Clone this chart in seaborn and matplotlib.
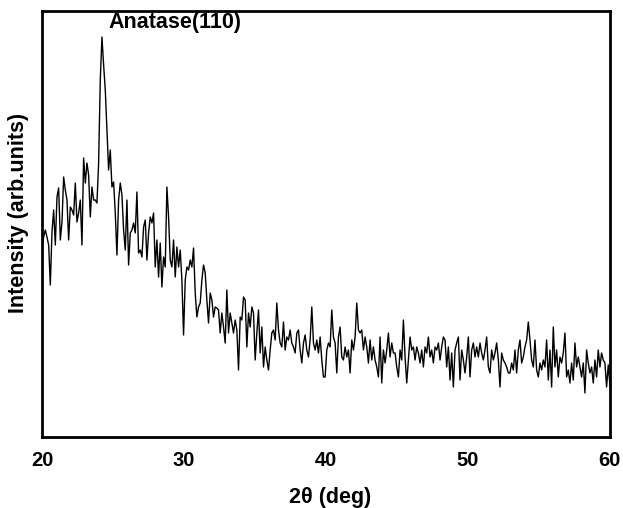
import numpy as np
import pandas as pd
import seaborn as sns
import matplotlib.pyplot as plt

# XRD intensity (arb. units), regular scan from 20 to 60 deg
intensity = [
    189, 200, 207, 200, 192, 152, 205, 227, 192, 240,
    249, 197, 215, 260, 247, 237, 197, 230, 227, 222,
    254, 215, 224, 237, 192, 279, 254, 274, 262, 220,
    250, 237, 237, 234, 274, 357, 400, 372, 347, 307,
    267,
    287, 250, 255, 224, 182, 237, 254, 242, 207, 187,
    237, 172, 204, 207, 214, 204, 245, 184, 187, 180,
    210, 217, 177, 204, 220, 214, 224, 170, 197, 160,
    194, 150, 180, 170, 250, 220, 177, 170, 197, 160,
    190, 170,
    187, 157, 102, 157, 170, 167, 177, 170, 189, 144,
    120, 130, 134, 157, 172, 164, 137, 114, 144, 137,
    120, 130, 129, 127, 104, 124, 110, 94, 147, 104,
    124, 114, 104, 117, 107, 67, 120, 117, 140, 137,
    90, 124, 110, 130, 124, 77,
    104, 127, 84, 110, 70, 90, 77, 67, 87, 104,
    107, 97, 134, 107, 94, 90, 115, 87, 100, 97,
    107, 94, 90, 84, 104, 107, 87, 74, 94, 102,
    87, 80, 97, 130, 94, 87, 97, 84, 100, 77,
    60,
    60, 87, 94, 90, 127, 100, 94, 64, 100, 110,
    80, 77, 90, 80, 87, 64, 97, 87, 100, 134,
    107, 104, 107, 87, 100, 90, 74, 97, 77, 90,
    77, 70, 60, 100, 54, 87, 74, 87, 104, 80,
    94, 84,
    84, 70, 60, 87, 77, 117, 80, 54, 77, 100,
    87, 90, 77, 90, 84, 74, 87, 70, 90, 84,
    100, 80, 87, 74, 90, 87, 94, 77, 90, 100,
    97, 70, 90, 57, 84, 50, 87, 94, 100, 57,
    87,
    77, 64, 80, 100, 60, 87, 94, 80, 90, 80,
    94, 84, 77, 87, 100, 70, 64, 87, 77, 84,
    94, 77, 50, 84, 77, 74, 70, 64, 64, 74,
    67, 87, 64, 87, 97, 74, 80, 90, 97, 115,
    97, 77, 70,
    97, 67, 60, 74, 67, 77, 70, 97, 57, 87,
    50, 110, 70, 87, 60, 80, 74, 84, 104, 60,
    67, 54, 74, 57, 94, 70, 80, 70, 60, 74,
    44, 87, 74, 64, 70, 54, 77, 60, 87, 70,
    84, 77, 74, 50, 72, 52,
]
two_theta = np.linspace(20, 60, len(intensity))
df = pd.DataFrame({"two_theta": two_theta, "intensity": intensity})

sns.set_theme(style="white")
plt.rcParams['font.family'] = ['Liberation Sans', 'DejaVu Sans']
plt.rcParams['text.color'] = 'black'
plt.rcParams['xtick.color'] = 'black'
plt.rcParams['axes.labelcolor'] = 'black'

fig = plt.figure(figsize=(6.23, 5.08), dpi=100)
ax = fig.add_axes([0.0674, 0.1398, 0.9116, 0.8385])
sns.lineplot(data=df, x="two_theta", y="intensity", ax=ax, color="black", linewidth=1.0)

ax.set_xlim(20, 60)
ax.set_ylim(0, 426)
ax.set_xticks([20, 30, 40, 50, 60])
ax.set_yticks([])
ax.tick_params(axis='x', length=0, pad=10, labelsize=14.5)
for lbl in ax.get_xticklabels():
    lbl.set_fontweight('bold')
for s in ax.spines.values():
    s.set_linewidth(2)
    s.set_color("black")

ax.set_xlabel("2θ (deg)", fontsize=15.5, fontweight='bold')
ax.set_ylabel("Intensity (arb.units)", fontsize=15.5, fontweight='bold')
ax.xaxis.set_label_coords(0.507, -0.118)
ax.yaxis.set_label_coords(-0.022, 0.526)
ax.text(24.65, 415, "Anatase(110)", fontsize=15.5, fontweight='bold', va='center', ha='left')

fig.savefig("out.png", dpi=100)
